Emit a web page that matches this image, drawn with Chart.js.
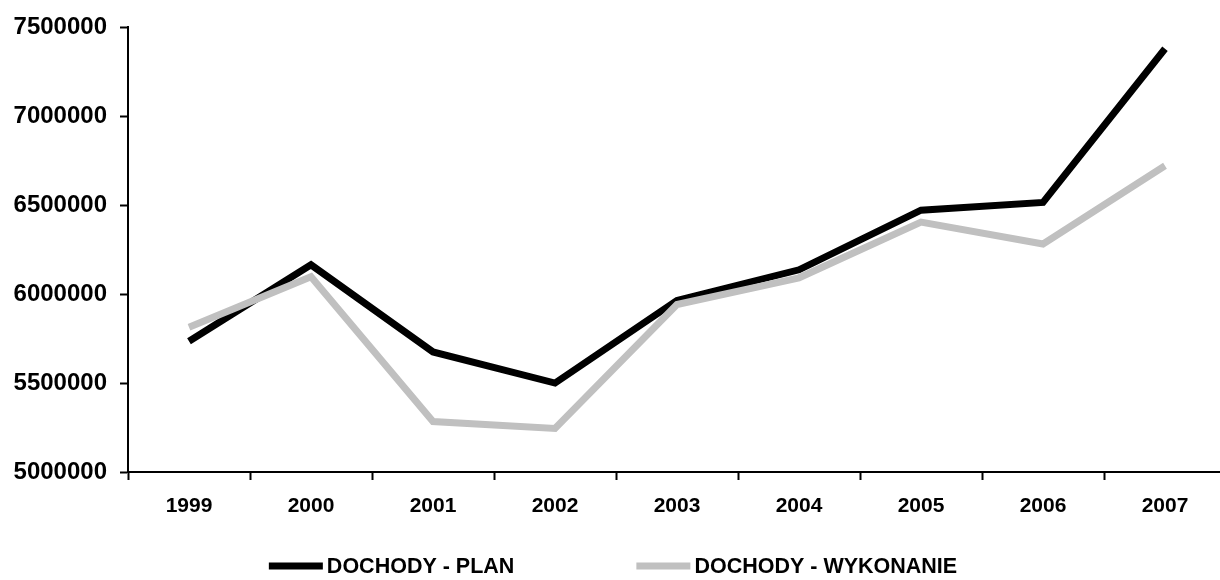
<!DOCTYPE html>
<html>
<head>
<meta charset="utf-8">
<script src="https://cdn.jsdelivr.net/npm/chart.js@4/dist/chart.umd.min.js"></script>
<style>
  html, body { margin: 0; padding: 0; background: #fff; overflow: hidden; }
  #wrap { width: 1240px; height: 580px; }
</style>
</head>
<body>
<div id="wrap"><canvas id="chart"></canvas></div>
<script>
const years = ['1999', '2000', '2001', '2002', '2003', '2004', '2005', '2006', '2007'];
const plan = [5735000, 6165000, 5675000, 5500000, 5965000, 6137000, 6472000, 6516000, 7380000];
const wykonanie = [5814000, 6098000, 5284000, 5245000, 5942000, 6092000, 6405000, 6282000, 6722000];
const yTicks = [5000000, 5500000, 6000000, 6500000, 7000000, 7500000];

const FONT = '"Liberation Sans", Arial, sans-serif';

// legend drawn by hand: wide gap between the two entries like the original
const bottomLegend = {
    id: 'bottomLegend',
    afterDraw(chart) {
        const ctx = chart.ctx;
        const lineW = 54, gapText = 4, gapItems = 122, y = 566;
        ctx.save();
        ctx.font = 'bold 21.5px ' + FONT;
        ctx.textBaseline = 'middle';
        const items = chart.data.datasets.map(ds => ({
            text: ds.label, color: ds.borderColor, w: ctx.measureText(ds.label).width
        }));
        let total = 0;
        items.forEach((it, i) => { total += lineW + gapText + it.w + (i ? gapItems : 0); });
        let x = 613 - total / 2;
        items.forEach(it => {
            ctx.fillStyle = it.color;
            ctx.fillRect(x, y - 3.5, lineW, 7);
            x += lineW + gapText;
            ctx.fillStyle = '#000';
            ctx.fillText(it.text, x, y + 1);
            x += it.w + gapItems;
        });
        ctx.restore();
    }
};

new Chart(document.getElementById('chart'), {
    type: 'line',
    data: {
        labels: years,
        datasets: [{
            label: 'DOCHODY - PLAN',
            data: plan,
            borderColor: '#000000',
            borderWidth: 7,
            borderJoinStyle: 'miter',
            borderCapStyle: 'butt',
            pointRadius: 0,
            tension: 0,
            order: 2
        }, {
            label: 'DOCHODY - WYKONANIE',
            data: wykonanie,
            borderColor: '#c0c0c0',
            borderWidth: 7,
            borderJoinStyle: 'miter',
            borderCapStyle: 'butt',
            pointRadius: 0,
            tension: 0,
            order: 1
        }]
    },
    options: {
        responsive: true,
        maintainAspectRatio: false,
        animation: false,
        layout: { padding: { top: 18.5, right: 14, left: 0, bottom: 0 } },
        plugins: {
            tooltip: { enabled: false },
            legend: { display: false }
        },
        scales: {
            x: {
                offset: true,
                grid: {
                    offset: true,
                    drawOnChartArea: false,
                    drawTicks: true,
                    tickLength: 8,
                    tickWidth: 2,
                    tickColor: '#000'
                },
                border: { color: '#000', width: 2 },
                ticks: {
                    color: '#000',
                    padding: 14,
                    maxRotation: 0,
                    font: { family: FONT, size: 21, weight: 'bold' }
                },
                afterFit: (scale) => { scale.height = 108; }
            },
            y: {
                min: 5000000,
                max: 7500000,
                afterBuildTicks: (scale) => { scale.ticks = yTicks.map(v => ({ value: v })); },
                grid: {
                    drawOnChartArea: false,
                    drawTicks: true,
                    tickLength: 8,
                    tickWidth: 2,
                    tickColor: '#000'
                },
                border: { color: '#000', width: 2 },
                ticks: {
                    color: '#000',
                    padding: 13,
                    font: { family: FONT, size: 24, weight: 'bold' },
                    callback: (v) => String(v)
                },
                afterFit: (scale) => { scale.width = 128; }
            }
        }
    },
    plugins: [bottomLegend]
});
</script>
</body>
</html>
